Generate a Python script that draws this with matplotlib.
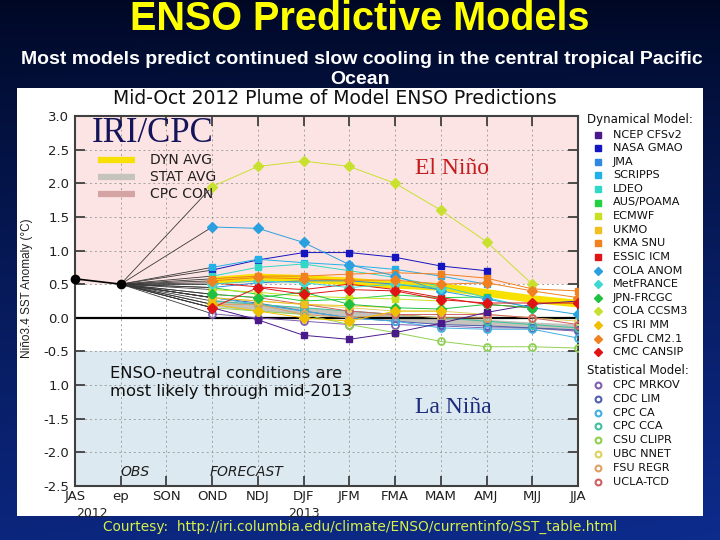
import numpy as np
import matplotlib
matplotlib.use("Agg")
import matplotlib.pyplot as plt
from matplotlib.patches import Rectangle
import matplotlib.transforms as mtransforms

# ---------------- data ----------------
seasons = ["JAS", "ep", "SON", "OND", "NDJ", "DJF", "JFM", "FMA", "MAM", "AMJ", "MJJ", "JJA"]
obs_seasons = ["JAS", "ep"]
obs_values = [0.58, 0.50]
lead_seasons = ["OND", "NDJ", "DJF", "JFM", "FMA", "MAM", "AMJ", "MJJ", "JJA"]
yticks = [3.0, 2.5, 2.0, 1.5, 1.0, 0.5, 0.0, -0.5, -1.0, -1.5, -2.0, -2.5]
ytick_labels = ["3.0", "2.5", "2.0", "1.5", "1.0", "0.5", "0.0", "-0.5", "1.0", "-1.5", "-2.0", "-2.5"]

N = None
dyn_names = ["NCEP CFSv2", "NASA GMAO", "JMA", "SCRIPPS", "LDEO", "AUS/POAMA", "ECMWF",
             "UKMO", "KMA SNU", "ESSIC ICM", "COLA ANOM", "MetFRANCE", "JPN-FRCGC",
             "COLA CCSM3", "CS IRI MM", "GFDL CM2.1", "CMC CANSIP"]
dyn_colors = ["#4a1a8c", "#1414c0", "#3088e0", "#22b0e8", "#30d8c8", "#22d040", "#c8e020",
              "#f0c020", "#f08020", "#e01414", "#2aa0e0", "#40d8d0", "#20c040",
              "#c8e030", "#f0c000", "#f08020", "#e01414"]
dyn_markers = ["s"] * 10 + ["D"] * 7

ncep = [0.15, -0.03, -0.26, -0.32, -0.22, -0.08, 0.08, 0.20, 0.25]
nasa = [0.71, 0.86, 0.97, 0.97, 0.90, 0.77, 0.70, N, N]
jma = [0.45, 0.52, 0.55, 0.55, 0.50, 0.42, N, N, N]
scripps = [0.75, 0.87, 0.82, 0.78, 0.72, 0.62, 0.50, N, N]
ldeo = [0.62, 0.75, 0.80, 0.70, 0.60, 0.47, 0.30, 0.15, N]
poama = [0.45, 0.35, 0.25, 0.28, 0.34, 0.30, 0.31, N, N]
ecmwf = [0.42, 0.38, 0.32, 0.30, 0.28, 0.25, N, N, N]
ukmo = [0.30, 0.25, 0.20, 0.18, 0.15, N, N, N, N]
kma = [0.58, 0.62, 0.62, 0.65, 0.67, 0.65, 0.59, 0.43, 0.40]
essic = [0.52, 0.46, 0.42, 0.50, 0.42, 0.30, 0.20, 0.15, N]
cola_anom = [1.35, 1.33, 1.12, 0.79, 0.62, 0.40, 0.28, 0.15, 0.05]
metfrance = [0.50, 0.55, 0.52, 0.45, 0.50, 0.45, N, N, N]
jpn = [0.35, 0.30, 0.38, 0.20, 0.15, 0.13, 0.20, 0.15, N]
cola_ccsm3 = [1.95, 2.25, 2.33, 2.25, 2.00, 1.60, 1.13, 0.50, N]
cs_iri = [0.20, 0.10, 0.00, -0.05, 0.10, 0.10, N, N, N]
gfdl = [0.55, 0.60, 0.58, 0.56, 0.56, 0.50, 0.52, 0.40, 0.30]
cmc = [0.15, 0.45, 0.35, 0.42, 0.40, 0.27, 0.22, 0.22, 0.22]
dyn_values = [ncep, nasa, jma, scripps, ldeo, poama, ecmwf, ukmo, kma, essic,
              cola_anom, metfrance, jpn, cola_ccsm3, cs_iri, gfdl, cmc]

stat_names = ["CPC MRKOV", "CDC LIM", "CPC CA", "CPC CCA", "CSU CLIPR", "UBC NNET", "FSU REGR", "UCLA-TCD"]
stat_colors = ["#8060b0", "#5060b0", "#40b0e0", "#40c0a0", "#90d050", "#e0d060", "#e0a060", "#d06060"]
mrkov = [0.06, 0.00, -0.05, -0.10, -0.10, -0.12, -0.15, -0.15, -0.20]
lim = [0.30, 0.22, 0.10, 0.00, -0.05, -0.10, -0.12, -0.15, -0.18]
cpc_ca = [0.30, 0.20, 0.10, 0.00, -0.05, -0.15, -0.17, -0.17, -0.30]
cca = [0.25, 0.20, 0.15, 0.10, 0.05, 0.00, -0.05, -0.10, -0.15]
clipr = [0.15, 0.10, 0.05, -0.10, -0.22, -0.35, -0.43, -0.43, -0.45]
nnet = [0.30, 0.25, 0.20, 0.15, 0.10, 0.10, 0.05, 0.00, -0.05]
fsu = [0.20, 0.20, 0.05, 0.00, 0.05, 0.00, 0.00, N, N]
ucla = [0.35, 0.30, 0.20, 0.10, 0.05, 0.05, 0.05, 0.00, -0.10]
stat_values = [mrkov, lim, cpc_ca, cca, clipr, nnet, fsu, ucla]

avg_names = ["DYN AVG", "STAT AVG", "CPC CON"]
avg_colors = ["#f8e000", "#c4c4bc", "#d4a4a4"]
dyn_avg = [0.55, 0.60, 0.58, 0.54, 0.49, 0.46, 0.37, 0.28, 0.21]
stat_avg = [0.22, 0.15, 0.10, 0.05, 0.00, -0.05, -0.08, -0.12, -0.15]

# ---------------- figure ----------------
W, H = 720, 540
fig = plt.figure(figsize=(7.2, 5.4), dpi=100)

bg = fig.add_axes([0, 0, 1, 1])
bg.set_xlim(0, W)
bg.set_ylim(H, 0)
bg.axis("off")
yy = np.linspace(0, 1, 256)[:, None]
xx = np.linspace(0, 1, 256)[None, :]
top = np.array([0.0, 0.03, 0.14])
bot = np.array([0.05, 0.17, 0.55])
t = (yy ** 0.8) * (0.85 + 0.15 * xx)
grad = top[None, None, :] * (1 - t[..., None]) + bot[None, None, :] * t[..., None]
bg.imshow(grad, extent=[0, W, H, 0], aspect="auto", zorder=0)

sans = "Liberation Sans"
bg.text(360, 19, "ENSO Predictive Models", color="#ffff00", fontsize=28.5, fontweight="bold",
        family=sans, ha="center", va="center", zorder=2)
bg.text(362, 59, "Most models predict continued slow cooling in the central tropical Pacific",
        color="white", fontsize=14, fontweight="bold", family=sans, ha="center", va="center", zorder=2)
bg.text(360, 80, "Ocean", color="white", fontsize=14, fontweight="bold", family=sans,
        ha="center", va="center", zorder=2)

# white chart image
bg.add_patch(Rectangle((17, 88), 686, 428, facecolor="white", edgecolor="none", zorder=3))
bg.text(335, 98, "Mid-Oct 2012 Plume of Model ENSO Predictions", color="#101010", fontsize=13.5,
        family="DejaVu Sans", ha="center", va="center", zorder=4)
bg.text(27, 288, "Niño3.4 SST Anomaly (°C)", color="#202020", fontsize=8.5, family=sans,
        rotation=90, ha="center", va="center", zorder=4)

bg.text(360, 527, "Courtesy:  http://iri.columbia.edu/climate/ENSO/currentinfo/SST_table.html",
        color="#d8f048", fontsize=9.9, family="DejaVu Sans", ha="center", va="center", zorder=4)

# legend on the right
lx_m, lx_t = 598, 613
bg.text(587, 120, "Dynamical Model:", fontsize=8.5, color="#101010", va="center", ha="left", zorder=4)
y0, dy = 134.5, 13.6
for i, (nm, c, mk) in enumerate(zip(dyn_names, dyn_colors, dyn_markers)):
    y = y0 + i * dy
    bg.plot([lx_m], [y], marker=mk, color=c, ms=4 if mk == "s" else 4.2, zorder=4, clip_on=False)
    bg.text(lx_t, y, nm, fontsize=8.1, color="#101010", va="center", ha="left", zorder=4)
bg.text(587, 370, "Statistical Model:", fontsize=8.5, color="#101010", va="center", ha="left", zorder=4)
y0s = 385
for i, (nm, c) in enumerate(zip(stat_names, stat_colors)):
    y = y0s + i * 13.8
    bg.plot([lx_m], [y], marker="o", mfc="none", mec=c, mew=1.5, ms=4.2, zorder=4, clip_on=False)
    bg.text(lx_t, y, nm, fontsize=8.1, color="#101010", va="center", ha="left", zorder=4)

# ---------------- main plot ----------------
L, R, T, B = 75, 578, 116, 486
ax = fig.add_axes([L / W, 1 - B / H, (R - L) / W, (B - T) / H], zorder=5)
xs_all = np.arange(len(seasons))
xi = {s: i for i, s in enumerate(seasons)}
ax.set_xlim(0, len(seasons) - 1)
ax.set_ylim(-2.5, 3.0)

ax.axhspan(0.5, 3.0, color="#fde4e4", zorder=0, lw=0)
ax.axhspan(-2.5, -0.5, color="#dde9f0", zorder=0, lw=0)
for x in xs_all[1:-1]:
    ax.axvline(x, color="#a0a0a0", lw=0.7, ls=(0, (2, 3)), zorder=1)
for y in yticks[1:-1]:
    ax.axhline(y, color="#a0a0a0", lw=0.7, ls=(0, (2, 3)), zorder=1)
ax.axhline(0, color="black", lw=1.6, zorder=2.5)

lead_x = [xi[s] for s in lead_seasons]
ep_x, ep_y = xi["ep"], obs_values[1]


def series(vals):
    px = [x for x, v in zip(lead_x, vals) if v is not None]
    py = [v for v in vals if v is not None]
    return px, py


# averages
for vals, c, lw in [(stat_avg, avg_colors[1], 5), (dyn_avg, avg_colors[0], 5.5)]:
    px, py = series(vals)
    ax.plot(px, py, color=c, lw=lw, zorder=2, solid_capstyle="butt")

# fan lines from the last observation
for vals in dyn_values + stat_values:
    px, py = series(vals)
    ax.plot([ep_x, px[0]], [ep_y, py[0]], color="#383838", lw=0.6, zorder=2.2)

for vals, c in zip(stat_values, stat_colors):
    px, py = series(vals)
    ax.plot(px, py, color=c, lw=0.7, zorder=3)
    ax.plot(px, py, ls="none", marker="o", mfc="none", mec=c, mew=1.3, ms=5, zorder=3.2)

for vals, c, mk in zip(dyn_values, dyn_colors, dyn_markers):
    px, py = series(vals)
    ax.plot(px, py, color=c, lw=0.7, zorder=3.5)
    ax.plot(px, py, ls="none", marker=mk, color=c, ms=5, zorder=3.6)

# observations
ax.plot([xi[s] for s in obs_seasons], obs_values, color="black", lw=1.2, marker="o", ms=6, zorder=6, clip_on=False)

ax.set_xticks(xs_all)
ax.set_xticklabels(seasons)
ax.set_yticks(yticks)
ax.set_yticklabels(ytick_labels)
ax.tick_params(direction="in", length=7, width=1.3, color="#404040", labelsize=9.5,
               labelcolor="#202020", top=True, right=True, pad=4)
ax.tick_params(axis="x", pad=3)
for s in ax.spines.values():
    s.set_color("#404040")
    s.set_linewidth(1.5)

trans = mtransforms.blended_transform_factory(ax.transData, ax.transAxes)
ax.text(0.37, -0.074, "2012", transform=trans, fontsize=9, color="#202020", ha="center", va="center")
ax.text(xi["DJF"], -0.074, "2013", transform=trans, fontsize=9, color="#202020", ha="center", va="center")

# inset annotations
ax.text(0.033, 0.953, "IRI/CPC", transform=ax.transAxes, family="Liberation Serif", fontsize=25,
        color="#14145a", ha="left", va="center", zorder=7)
hx0, hx1, htx = 0.045, 0.12, 0.15
for k, (nm, c) in enumerate(zip(avg_names, avg_colors)):
    yk = 0.880 - k * 0.045
    ax.plot([hx0, hx1], [yk, yk], transform=ax.transAxes, color=c, lw=4.5, zorder=7, solid_capstyle="butt")
    ax.text(htx, yk, nm, transform=ax.transAxes, fontsize=10, color="#202020", ha="left", va="center", zorder=7)

ax.text(0.75, 0.859, "El Niño", transform=ax.transAxes, family="Liberation Serif", fontsize=17,
        color="#c41c1c", ha="center", va="center", zorder=7)
ax.text(0.752, 0.211, "La Niña", transform=ax.transAxes, family="Liberation Serif", fontsize=17,
        color="#1c2c7c", ha="center", va="center", zorder=7)
ax.text(0.07, 0.281, "ENSO-neutral conditions are\nmost likely through mid-2013", transform=ax.transAxes,
        fontsize=11.8, color="#101010", ha="left", va="center", linespacing=1.25, zorder=7)
ax.text(0.12, 0.038, "OBS", transform=ax.transAxes, fontsize=10, style="italic", color="#202020",
        ha="center", va="center", zorder=7)
ax.text(0.34, 0.038, "FORECAST", transform=ax.transAxes, fontsize=10, style="italic", color="#202020",
        ha="center", va="center", zorder=7)

fig.savefig("out.png", dpi=100)
